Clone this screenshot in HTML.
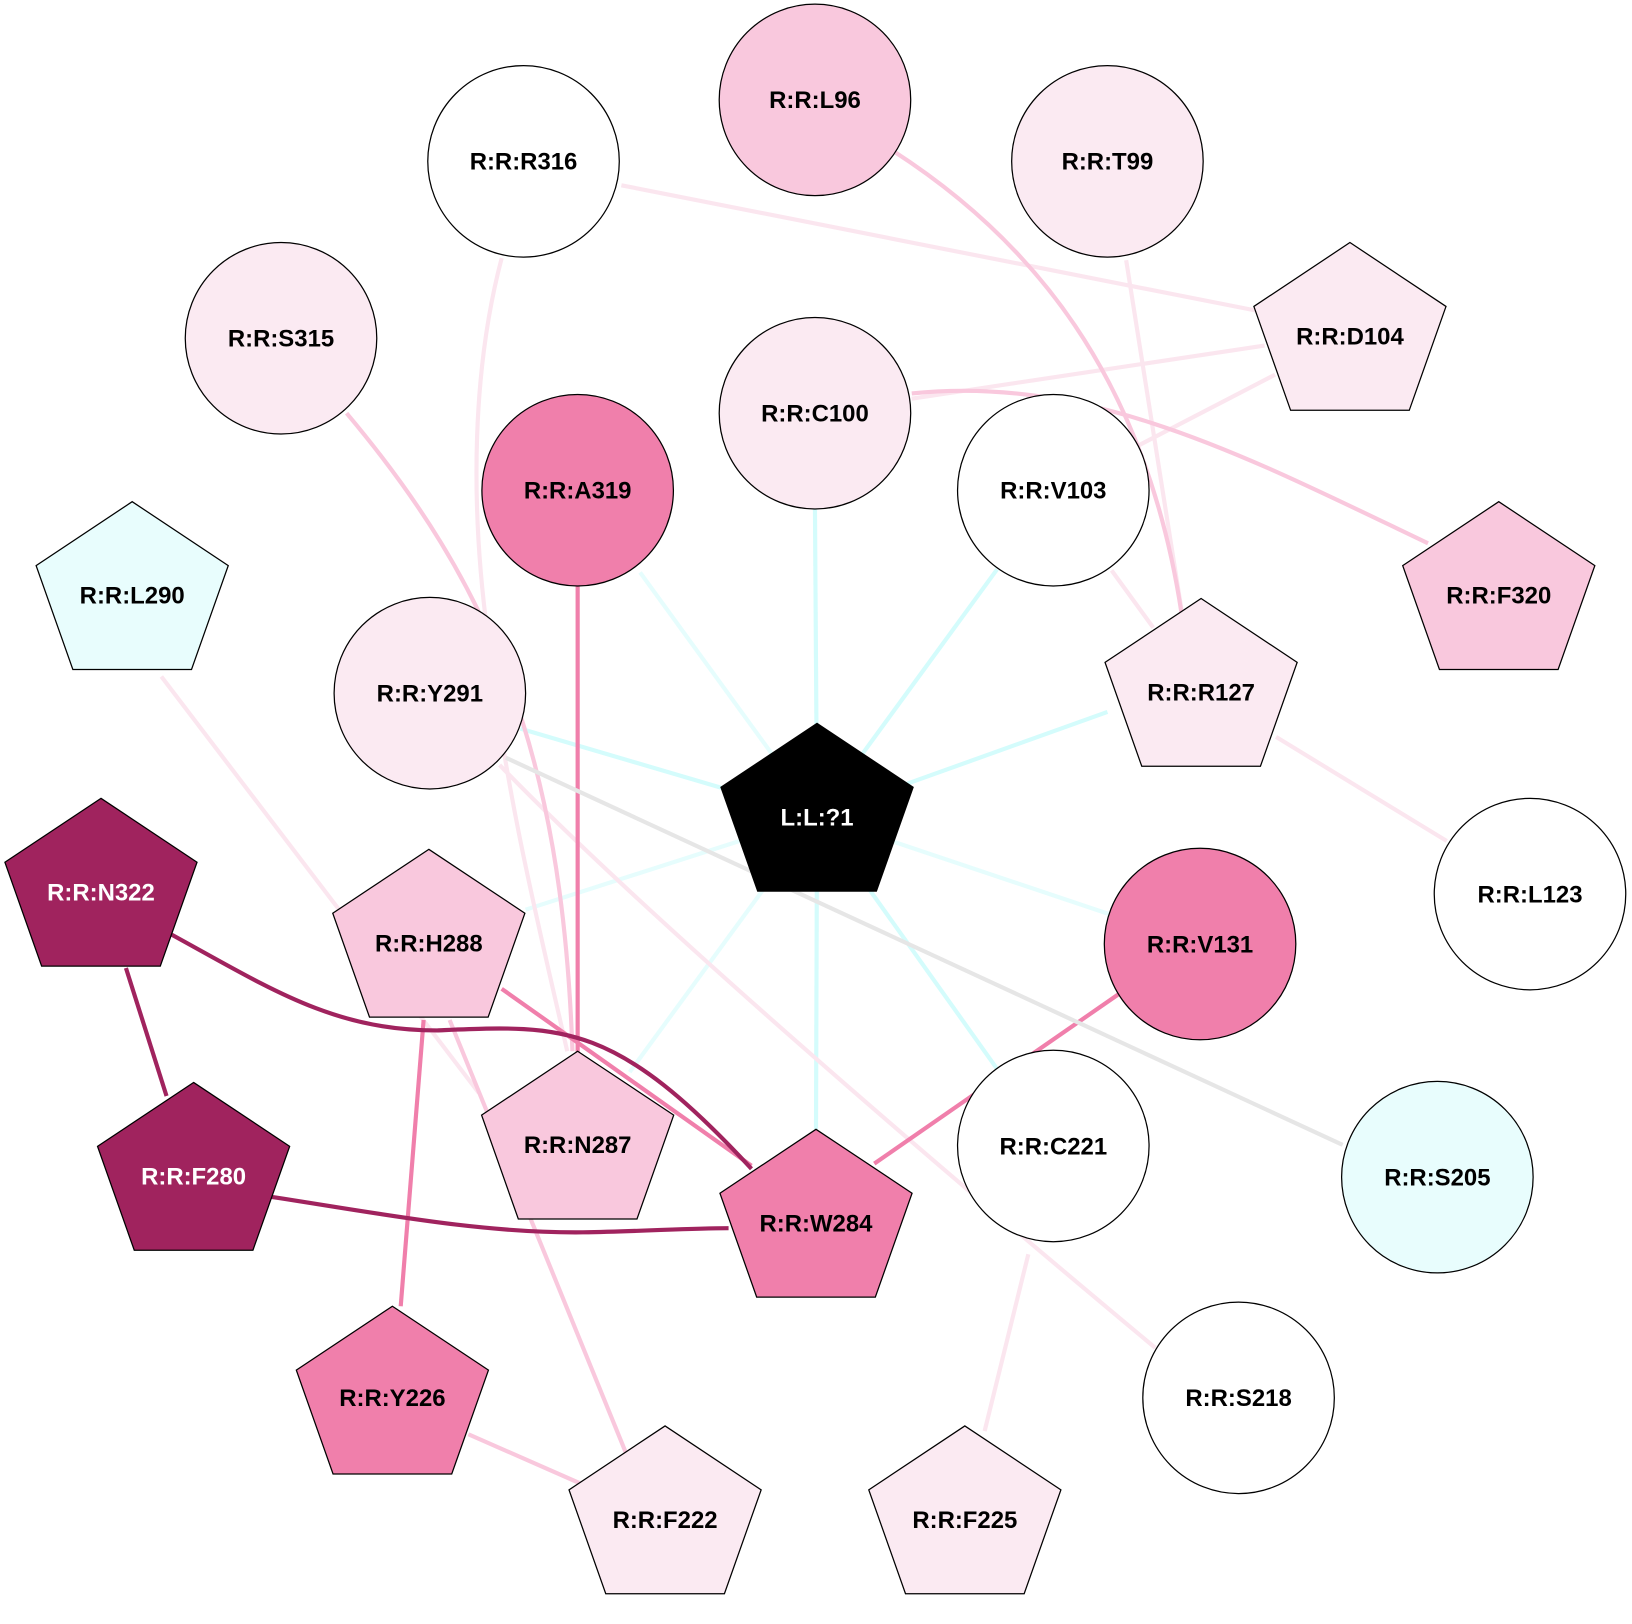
<!DOCTYPE html>
<html><head><meta charset="utf-8"><style>html,body{margin:0;padding:0;background:#fff}svg{display:block}</style></head>
<body>
<svg width="1632" height="1624" viewBox="0 0 1568 1560.3" xmlns="http://www.w3.org/2000/svg">
<defs>
<polygon id="p" points="0,-89 92.3,-27.6 57,72.2 -57,72.2 -92.3,-27.6"/>
</defs>
<g fill="none" stroke-width="4">
<g stroke="#d4fcfc">
<line x1="785" y1="784" x2="783" y2="489"/>
<line x1="785" y1="784" x2="958" y2="547"/>
<line x1="785" y1="784" x2="1064" y2="684"/>
<line x1="785" y1="784" x2="500" y2="700"/>
<line x1="785" y1="784" x2="615" y2="550" stroke="#e6fdfd"/>
<line x1="785" y1="784" x2="505" y2="874" stroke="#e6fdfd"/>
<line x1="785" y1="784" x2="605" y2="1030" stroke="#e6fdfd"/>
<line x1="785" y1="784" x2="784" y2="1085"/>
<line x1="785" y1="784" x2="958" y2="1027"/>
<line x1="785" y1="784" x2="1065" y2="878" stroke="#e6fdfd"/>
</g>
<g stroke="#fbe6ef">
<line x1="597" y1="178" x2="1215" y2="300"/>
<line x1="876" y1="383" x2="1215" y2="332"/>
<line x1="1225" y1="360" x2="1090" y2="430"/>
<line x1="1082" y1="250" x2="1135" y2="585"/>
<line x1="1068" y1="548" x2="1108" y2="603"/>
<line x1="1226" y1="708" x2="1390" y2="808"/>
<path d="M482,248 C455,350 450,480 470,620 C485,760 520,900 545,1010"/>
<line x1="155" y1="650" x2="460" y2="1050"/>
<path d="M480,735 C620,880 900,1120 1110,1295"/>
<line x1="988" y1="1205" x2="946" y2="1375"/>
</g>
<g stroke="#f9c8dd">
<path d="M858,145 C990,230 1100,360 1135,588"/>
<path d="M876,378 C1050,360 1200,440 1372,522"/>
<path d="M333,397 C470,560 540,720 550,1010"/>
<line x1="432" y1="980" x2="601" y2="1395"/>
<line x1="450" y1="1378" x2="557" y2="1425"/>
</g>
<g stroke="#f07fab">
<line x1="555" y1="563" x2="555" y2="1012"/>
<line x1="482" y1="950" x2="722" y2="1120"/>
<line x1="1075" y1="955" x2="840" y2="1118"/>
<line x1="407" y1="980" x2="385" y2="1255"/>
</g>
<line x1="486" y1="728" x2="1290" y2="1100" stroke="#e6e6e6"/>
<g stroke="#a0235e">
<line x1="121" y1="930" x2="160" y2="1053"/>
<path d="M165,898 C260,950 320,990 420,990 C540,985 590,980 722,1123"/>
<path d="M261,1150 C360,1165 460,1185 560,1184 C620,1183 660,1180 700,1180"/>
</g>
</g>
<g stroke="#000" stroke-width="1.2">
<circle cx="503" cy="155" r="92" fill="#fff"/>
<circle cx="783" cy="96" r="92" fill="#f9c8dd"/>
<circle cx="1064" cy="155" r="92" fill="#fbeaf2"/>
<circle cx="270" cy="325" r="92" fill="#fbeaf2"/>
<circle cx="783" cy="397" r="92" fill="#fbeaf2"/>
<circle cx="555" cy="471" r="92" fill="#f07fab"/>
<circle cx="1012" cy="471" r="92" fill="#fff"/>
<circle cx="413" cy="666" r="92" fill="#fbeaf2"/>
<circle cx="1470" cy="859" r="92" fill="#fff"/>
<circle cx="1153" cy="907" r="92" fill="#f07fab"/>
<circle cx="1012" cy="1101" r="92" fill="#fff"/>
<circle cx="1381" cy="1131" r="92" fill="#e8fdfd"/>
<circle cx="1190" cy="1343" r="92" fill="#fff"/>
<use href="#p" x="1297" y="322" fill="#fbeaf2"/>
<use href="#p" x="127" y="571" fill="#e8fdfd"/>
<use href="#p" x="1440" y="571" fill="#f9c8dd"/>
<use href="#p" x="1154" y="664" fill="#fbeaf2"/>
<use href="#p" x="785" y="784" fill="#000"/>
<use href="#p" x="97" y="856" fill="#a0235e"/>
<use href="#p" x="412" y="905" fill="#f9c8dd"/>
<use href="#p" x="555" y="1099" fill="#f9c8dd"/>
<use href="#p" x="186" y="1129" fill="#a0235e"/>
<use href="#p" x="784" y="1174" fill="#f07fab"/>
<use href="#p" x="377" y="1344" fill="#f07fab"/>
<use href="#p" x="639" y="1459" fill="#fbeaf2"/>
<use href="#p" x="927" y="1459" fill="#fbeaf2"/>
</g>
<g font-family="Liberation Sans, Arial, sans-serif" font-weight="bold" font-size="23" text-anchor="middle" fill="#000">
<text x="503" y="163">R:R:R316</text>
<text x="783" y="104">R:R:L96</text>
<text x="1064" y="163">R:R:T99</text>
<text x="270" y="333">R:R:S315</text>
<text x="783" y="405">R:R:C100</text>
<text x="555" y="479">R:R:A319</text>
<text x="1012" y="479">R:R:V103</text>
<text x="413" y="674">R:R:Y291</text>
<text x="1470" y="867">R:R:L123</text>
<text x="1153" y="915">R:R:V131</text>
<text x="1012" y="1109">R:R:C221</text>
<text x="1381" y="1139">R:R:S205</text>
<text x="1190" y="1351">R:R:S218</text>
<text x="1297" y="331">R:R:D104</text>
<text x="127" y="580">R:R:L290</text>
<text x="1440" y="580">R:R:F320</text>
<text x="1154" y="673">R:R:R127</text>
<text x="785" y="793" fill="#fff">L:L:?1</text>
<text x="97" y="865" fill="#fff">R:R:N322</text>
<text x="412" y="914">R:R:H288</text>
<text x="555" y="1108">R:R:N287</text>
<text x="186" y="1138" fill="#fff">R:R:F280</text>
<text x="784" y="1183">R:R:W284</text>
<text x="377" y="1351">R:R:Y226</text>
<text x="639" y="1468">R:R:F222</text>
<text x="927" y="1468">R:R:F225</text>
</g>
</svg>
</body></html>
